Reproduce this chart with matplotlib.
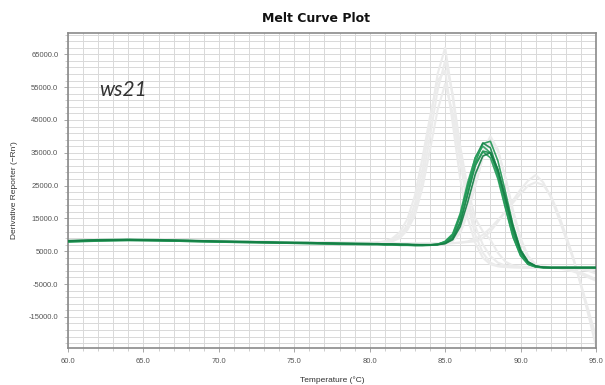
import numpy as np
import matplotlib
matplotlib.use("Agg")
import matplotlib.pyplot as plt
from matplotlib.ticker import MultipleLocator, FormatStrFormatter

# temperature points (deg C) shared by every well
temps = [60, 62, 64, 66, 68, 70, 72, 74, 76, 78, 80,
         80.5, 81, 81.5, 82, 82.5, 83, 83.5, 84, 84.5,
         85, 85.5, 86, 86.5, 87, 87.5, 88, 88.5, 89, 89.5, 90, 90.5, 91, 91.5,
         92, 92.5, 93, 93.5, 94, 94.5, 95]

# derivative reporter, in thousands
# ws21 wells (highlighted)
ws21_a = [8.1, 8.4, 8.5, 8.4, 8.2, 8.0, 7.9, 7.7, 7.6, 7.4, 7.3,
          7.2, 7.2, 7.1, 7.1, 7.0, 7.0, 6.9, 6.9, 7.0,
          7.4, 8.8, 13.5, 22.5, 32.0, 37.8, 38.5, 32.5, 23.0, 13.0, 5.5, 1.8, 0.5, 0.1,
          0.0, 0.0, 0.0, 0.0, 0.0, 0.0, 0.0]
ws21_b = [8.0, 8.3, 8.5, 8.3, 8.1, 7.9, 7.8, 7.6, 7.5, 7.3, 7.2,
          7.2, 7.1, 7.1, 7.0, 7.0, 6.9, 6.9, 6.9, 7.1,
          7.8, 9.8, 15.5, 25.0, 33.5, 38.0, 36.5, 29.5, 20.0, 10.5, 4.2, 1.2, 0.3, 0.0,
          0.0, 0.0, 0.0, 0.0, 0.0, 0.0, 0.0]
ws21_c = [7.9, 8.2, 8.3, 8.2, 8.0, 7.8, 7.7, 7.5, 7.4, 7.2, 7.1,
          7.1, 7.0, 7.0, 6.9, 6.9, 6.8, 6.8, 6.9, 7.1,
          8.0, 10.3, 16.5, 26.0, 33.5, 37.0, 35.0, 28.0, 18.5, 9.5, 3.8, 1.0, 0.2, 0.0,
          0.0, 0.0, 0.0, 0.0, 0.0, 0.0, 0.0]
ws21_d = [8.2, 8.5, 8.6, 8.5, 8.3, 8.0, 7.9, 7.7, 7.6, 7.4, 7.3,
          7.3, 7.2, 7.2, 7.1, 7.1, 7.0, 7.0, 7.0, 7.1,
          7.6, 9.2, 14.0, 22.5, 31.0, 35.5, 35.0, 29.0, 20.5, 11.5, 4.8, 1.5, 0.4, 0.1,
          0.0, 0.0, 0.0, 0.0, 0.0, 0.0, 0.0]
ws21_e = [7.8, 8.1, 8.3, 8.2, 8.0, 7.8, 7.6, 7.5, 7.3, 7.1, 7.0,
          7.0, 6.9, 6.9, 6.8, 6.8, 6.7, 6.7, 6.8, 7.0,
          7.9, 10.0, 16.0, 24.5, 31.5, 35.3, 33.5, 27.0, 18.0, 9.3, 3.6, 1.0, 0.2, 0.0,
          0.0, 0.0, 0.0, 0.0, 0.0, 0.0, 0.0]
ws21_f = [8.1, 8.3, 8.4, 8.3, 8.2, 8.0, 7.8, 7.6, 7.5, 7.3, 7.2,
          7.2, 7.1, 7.1, 7.0, 7.0, 6.9, 6.9, 6.9, 7.0,
          7.3, 8.5, 12.5, 20.0, 28.5, 34.0, 35.0, 30.0, 21.5, 12.5, 5.2, 1.7, 0.5, 0.1,
          0.0, 0.0, 0.0, 0.0, 0.0, 0.0, 0.0]

# other wells (greyed out)
other_a = [8.3, 8.6, 8.7, 8.6, 8.4, 8.2, 8.0, 7.8, 7.7, 7.6, 7.6,
           7.7, 7.9, 8.5, 9.8, 13.0, 19.5, 30.0, 44.0, 59.0,
           67.0, 52.0, 34.0, 21.0, 12.5, 7.0, 3.5, 1.5, 0.6, 0.3, 0.2, 0.1, 0.1, 0.0,
           0.0, -0.2, -0.6, -1.2, -2.0, -3.0, -4.0]
other_b = [8.2, 8.5, 8.6, 8.5, 8.3, 8.1, 7.9, 7.7, 7.6, 7.5, 7.5,
           7.6, 7.8, 8.3, 9.4, 12.0, 17.5, 27.0, 40.0, 54.0,
           63.0, 53.0, 37.0, 24.0, 15.0, 11.0, 8.5, 4.5, 1.8, 0.6, 0.3, 0.2, 0.1, 0.0,
           0.0, 0.0, -0.3, -0.8, -1.5, -2.5, -3.5]
other_c = [8.1, 8.4, 8.5, 8.4, 8.2, 8.0, 7.8, 7.7, 7.6, 7.5, 7.5,
           7.6, 8.0, 8.9, 10.8, 14.8, 22.0, 33.5, 46.0, 57.0,
           60.0, 44.0, 27.0, 15.0, 7.5, 3.0, 1.0, 0.4, 0.2, 0.1, 0.1, 0.0, 0.0, 0.0,
           0.0, 0.0, 0.0, -0.2, -0.5, -1.0, -1.8]
other_d = [8.2, 8.5, 8.6, 8.5, 8.3, 8.1, 7.9, 7.7, 7.6, 7.5, 7.4,
           7.5, 7.6, 8.0, 9.0, 11.5, 16.0, 24.5, 36.0, 48.0,
           56.0, 47.0, 32.0, 19.0, 10.0, 4.5, 1.5, 0.5, 0.2, 0.1, 0.0, 0.0, 0.0, 0.0,
           0.0, 0.0, 0.0, 0.0, -0.2, -0.4, -0.8]
other_e = [8.2, 8.5, 8.6, 8.5, 8.3, 8.1, 7.9, 7.8, 7.6, 7.5, 7.4,
           7.4, 7.3, 7.3, 7.2, 7.2, 7.1, 7.1, 7.2, 7.3,
           7.6, 8.4, 11.5, 18.5, 27.5, 35.5, 40.0, 36.0, 27.0, 16.5, 8.0, 3.0, 0.9, 0.3,
           0.1, 0.0, 0.0, 0.0, 0.0, 0.0, 0.0]
other_f = [8.0, 8.3, 8.4, 8.3, 8.1, 7.9, 7.8, 7.6, 7.5, 7.4, 7.3,
           7.3, 7.2, 7.2, 7.1, 7.1, 7.0, 7.0, 7.1, 7.2,
           7.5, 8.1, 10.5, 16.5, 25.0, 33.5, 38.5, 35.5, 27.5, 17.5, 9.0, 3.5, 1.0, 0.3,
           0.1, 0.0, 0.0, 0.0, 0.0, 0.0, 0.0]
other_g = [8.3, 8.6, 8.7, 8.6, 8.4, 8.2, 8.0, 7.8, 7.7, 7.6, 7.5,
           7.5, 7.5, 7.4, 7.4, 7.4, 7.4, 7.4, 7.4, 7.4,
           7.4, 7.5, 7.6, 7.8, 8.0, 9.0, 11.0, 14.0, 17.2, 20.5, 23.8, 26.5, 28.2, 26.0,
           21.5, 15.5, 9.0, 2.5, -5.0, -13.0, -21.0]
other_h = [8.1, 8.4, 8.5, 8.4, 8.2, 8.0, 7.8, 7.7, 7.6, 7.5, 7.4,
           7.4, 7.4, 7.3, 7.3, 7.3, 7.3, 7.3, 7.3, 7.3,
           7.3, 7.4, 7.6, 8.0, 8.8, 10.0, 12.0, 14.5, 17.0, 19.8, 22.5, 25.0, 26.0, 25.2,
           22.0, 16.5, 10.0, 3.0, -5.5, -14.5, -24.0]

ws21 = [ws21_a, ws21_b, ws21_c, ws21_d, ws21_e, ws21_f]
others = [other_a, other_b, other_c, other_d, other_e, other_f, other_g, other_h]
greens = ['#1f9552', '#17844a', '#2aa05e', '#1a8c4d', '#239a57', '#147c44']

fig = plt.figure(figsize=(6.05, 3.85), dpi=100)
ax = fig.add_axes([0.1124, 0.0961, 0.8727, 0.8182])

t = np.array(temps)
for y in others:
    ax.plot(t, np.array(y) * 1000, color='#ebebeb', lw=1.5, zorder=2,
            solid_joinstyle='round')
for y, c in zip(ws21, greens):
    ax.plot(t, np.array(y) * 1000, color=c, lw=1.2, alpha=0.9, zorder=3,
            solid_joinstyle='round')

ax.set_xlim(60, 95)
ax.set_ylim(-24500, 71500)

ax.xaxis.set_major_locator(MultipleLocator(5))
ax.xaxis.set_minor_locator(MultipleLocator(1))
ax.yaxis.set_major_locator(MultipleLocator(10000, offset=5000))
ax.yaxis.set_minor_locator(MultipleLocator(2000, offset=1000))
ax.xaxis.set_major_formatter(FormatStrFormatter('%.1f'))
ax.yaxis.set_major_formatter(FormatStrFormatter('%.1f'))

ax.grid(True, which='both', color='#d9d9d9', lw=0.7, zorder=0)
ax.set_axisbelow(True)
ax.tick_params(which='major', length=3, width=0.6, color='#999999',
               labelsize=5.5, labelcolor='#555555', pad=4)
ax.tick_params(which='minor', length=2, width=0.5, color='#bbbbbb')
for lab in ax.get_xticklabels() + ax.get_yticklabels():
    lab.set_family('Liberation Sans')
for s in ax.spines.values():
    s.set_color('#8a8a8a')
    s.set_linewidth(1.2)

ax.set_xlabel('Temperature (°C)', fontsize=6, color='#333333',
              family='Liberation Sans', labelpad=8)
ax.set_ylabel("Derivative Reporter (\u2212Rn')", fontsize=6, color='#333333',
              family='Liberation Sans', labelpad=8)

fig.text(0.522, 0.953, 'Melt Curve Plot', ha='center', va='center',
         fontsize=9, fontweight='bold', color='#111111')
ax.text(0.06, 0.82, 'ws21', transform=ax.transAxes, ha='left', va='center',
        fontsize=15, style='italic', family='Lato', color='#333333')

fig.savefig('out.png', dpi=100)
